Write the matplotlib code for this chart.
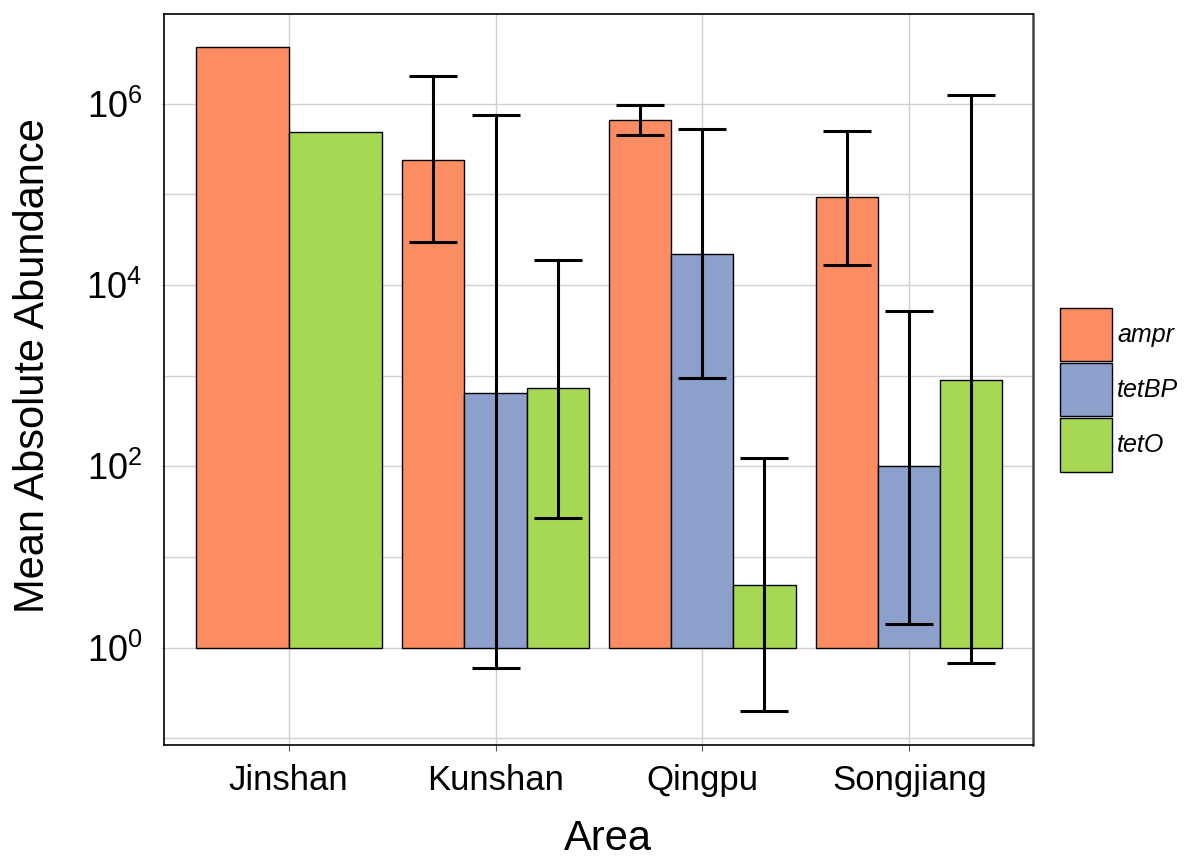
import matplotlib.pyplot as plt
import matplotlib.ticker as mticker
import numpy as np

plt.rcParams['font.family'] = ['Liberation Sans', 'DejaVu Sans']
plt.rcParams['mathtext.fontset'] = 'custom'
plt.rcParams['mathtext.rm'] = 'Liberation Sans'
plt.rcParams['mathtext.it'] = 'Liberation Sans:italic'

# data
areas = ['Jinshan', 'Kunshan', 'Qingpu', 'Songjiang']
genes = ['ampr', 'tetBP', 'tetO']
colors = ['#FC8D62', '#8DA0CB', '#A6D854']

ampr_mean = [4.25e6, 2.4e5, 6.5e5, 9.2e4]
ampr_low = [np.nan, 3.0e4, 4.45e5, 1.66e4]
ampr_high = [np.nan, 2.0e6, 9.7e5, 5.0e5]

tetbp_mean = [np.nan, 650, 2.17e4, 100]
tetbp_low = [np.nan, 0.59, 930, 1.84]
tetbp_high = [np.nan, 7.4e5, 5.2e5, 5.2e3]

teto_mean = [4.8e5, 730, 4.9, 900]
teto_low = [np.nan, 27, 0.2, 0.67]
teto_high = [np.nan, 1.9e4, 124, 1.25e6]

means = [ampr_mean, tetbp_mean, teto_mean]
lows = [ampr_low, tetbp_low, teto_low]
highs = [ampr_high, tetbp_high, teto_high]

fig = plt.figure(figsize=(11.85, 8.61), dpi=100)
ax = fig.add_axes([0.1388, 0.1351, 0.7333, 0.8481])

total = 0.9
for i in range(len(areas)):
    # which genes exist for this area (dodge like ggplot)
    present = [g for g in range(len(genes)) if not np.isnan(means[g][i])]
    w = total / len(present)
    for k, g in enumerate(present):
        x = i - total / 2 + w * (k + 0.5)
        ax.bar(x, means[g][i] - 1, bottom=1, width=w, color=colors[g],
               edgecolor='black', linewidth=1, zorder=3)
        if not np.isnan(lows[g][i]):
            m = means[g][i]
            ax.errorbar(x, m, yerr=[[m - lows[g][i]], [highs[g][i] - m]],
                        fmt='none', ecolor='black', elinewidth=2.2,
                        capsize=17, capthick=2.2, zorder=4)

ax.set_yscale('log')
ax.set_ylim(0.085, 9.6e6)
ax.set_xlim(-0.6, 3.6)
ax.set_yticks([1, 1e2, 1e4, 1e6])
ax.set_yticks([1e-1, 1e1, 1e3, 1e5], minor=True)
ax.set_yticklabels(['$10^{0}$', '$10^{2}$', '$10^{4}$', '$10^{6}$'])
ax.yaxis.set_minor_formatter(mticker.NullFormatter())
ax.set_xticks(range(len(areas)))
ax.set_xticklabels(areas)

ax.grid(True, which='both', color='#d0d0d0', linewidth=1, zorder=0)
ax.set_axisbelow(True)
ax.tick_params(axis='x', labelsize=25, length=4, color='#555555', pad=10)
ax.tick_params(axis='y', which='major', labelsize=26, length=2, color='#cccccc', pad=14)
ax.tick_params(axis='y', which='minor', length=0)
for s in ax.spines.values():
    s.set_color('black')
    s.set_linewidth(1.2)
ax.spines['right'].set_color('#444444')
ax.spines['right'].set_linewidth(1.8)

ax.set_xlabel('Area', fontsize=30, labelpad=16)
ax.xaxis.label.set_x(0.51)
ax.set_ylabel('Mean Absolute Abundance', fontsize=30, labelpad=24)
ax.yaxis.label.set_y(0.519)

handles = [plt.Rectangle((0, 0), 1, 1, facecolor=c, edgecolor='black', linewidth=1)
           for c in colors]
leg = ax.legend(handles, genes, loc='center left', bbox_to_anchor=(1.01, 0.486),
                frameon=False, prop={'size': 18, 'style': 'italic'},
                handlelength=2.1, handleheight=2.9, labelspacing=0.08,
                handletextpad=0.2, borderaxespad=0.3)

fig.savefig('out.png', dpi=100)
